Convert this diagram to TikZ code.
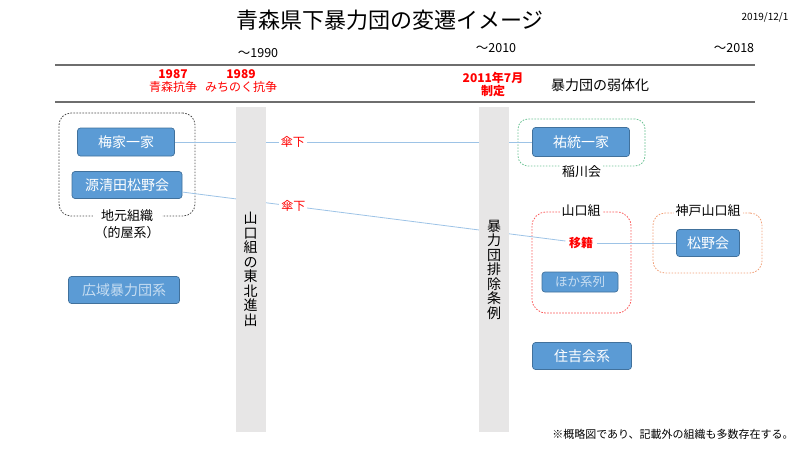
\documentclass[tikz,border=0pt]{standalone}
\usepackage{fontspec}
\setmainfont{Noto Sans CJK JP}
\usepackage{tikz}
\usetikzlibrary{positioning}
\definecolor{boxblue}{RGB}{91,155,213}
\definecolor{boxedge}{RGB}{65,113,156}
\definecolor{barfill}{RGB}{231,230,230}
\definecolor{linkblue}{RGB}{157,195,230}
\definecolor{fadetext}{RGB}{200,222,242}
\definecolor{rulegrey}{RGB}{110,110,110}
\definecolor{grpgreen}{RGB}{110,195,150}
\definecolor{grpred}{RGB}{250,90,90}
\definecolor{grporange}{RGB}{240,160,120}

\begin{document}
\begin{tikzpicture}[x=1pt,y=-1pt,
  org/.style={draw=boxedge,fill=boxblue,text=white,rounded corners=3pt,line width=0.7pt,font=\fontsize{14}{16}\selectfont,inner sep=0pt},
  grp/.style={draw=#1,rounded corners=12pt,dash pattern=on 1.6pt off 1.4pt,line width=0.8pt,inner sep=0pt},
  grplbl/.style={fill=white,inner sep=2pt,font=\fontsize{13}{15}\selectfont},
  link/.style={draw=linkblue,line width=0.8pt},
  redlbl/.style={text=red,font=\fontsize{12}{13}\selectfont,align=center},
  sanka/.style={redlbl,fill=white,inner sep=2pt},
  bar/.style={fill=barfill,minimum width=30pt,minimum height=325pt,inner sep=0pt,align=center,font=\fontsize{14}{14.5}\selectfont},
  era/.style={font=\fontsize{12.5}{14}\selectfont}]
  \useasboundingbox (0,0) rectangle (800,450);

  \node[font=\fontsize{22}{24}\selectfont] (title) at (390,20) {青森県下暴力団の変遷イメージ};
  \node[font=\fontsize{10}{12}\selectfont] (date) at (765,17) {2019/12/1};
  \node[era] (e1990) at (258,53) {〜1990};
  \node[era] (e2010) at (496,48) {〜2010};
  \node[era] (e2018) at (734,48) {〜2018};

  \draw[rulegrey,line width=1.2pt] (55,65) -- (755,65);
  \draw[rulegrey,line width=1.2pt] (55,102) -- (755,102);

  \node[redlbl] (ev1987) at (173,81) {\textbf{1987}\\青森抗争};
  \node[redlbl] (ev1989) at (241,81) {\textbf{1989}\\みちのく抗争};
  \node[redlbl,font=\bfseries\fontsize{12}{13}\selectfont] (ev2011) at (493,84) {2011年7月\\制定};
  \node[font=\fontsize{14}{16}\selectfont] (weak) at (600,85) {暴力団の弱体化};

  % groups
  \node[grp=black!70,minimum width=136pt,minimum height=103pt] (jimoto) at (127,164.5) {};
  \node[grp=grpgreen,minimum width=127pt,minimum height=47pt,rounded corners=10pt] (inagawa) at (581.5,142.5) {};
  \node[grp=grpred,minimum width=99pt,minimum height=101pt,rounded corners=14pt] (yamaguchi) at (581.5,262.5) {};
  \node[grp=grporange,minimum width=109pt,minimum height=60pt] (kobe) at (707.5,243) {};
  \node[grplbl,align=center,font=\fontsize{13}{17}\selectfont] (jimotolbl) at (127,224) {地元組織\\（的屋系）};
  \node[grplbl,below=-3pt of inagawa] (inagawalbl) {稲川会};
  \node[grplbl] (yamaguchilbl) at (581,211) {山口組};
  \node[grplbl] (kobelbl) at (708,211) {神戸山口組};

  % organisations
  \node[org,minimum width=97pt,minimum height=28pt] (umeya) at (126,142) {梅家一家};
  \node[org,minimum width=110pt,minimum height=27pt] (genseida) at (127,185) {源清田松野会};
  \node[org,minimum width=111pt,minimum height=27pt,text=fadetext] (kouiki) at (124,290) {広域暴力団系};
  \node[org,minimum width=97pt,minimum height=29pt] (yuto) at (581,142) {祐統一家};
  \node[org,minimum width=76pt,minimum height=20pt,text=fadetext,font=\fontsize{12.5}{14}\selectfont] (hoka) at (580,282) {ほか系列};
  \node[org,minimum width=63pt,minimum height=27pt] (matsuno) at (708,243) {松野会};
  \node[org,minimum width=99pt,minimum height=27pt] (sumiyoshi) at (582,356) {住吉会系};
  \node[redlbl,font=\bfseries\fontsize{12}{13}\selectfont] (iseki) at (581,243) {移籍};

  \draw[link] (umeya) -- node[sanka,pos=0.33] (sanka1) {傘下} (yuto);
  \draw[link] (genseida) -- node[sanka,pos=0.29] (sanka2) {傘下} (iseki);
  \draw[link] (iseki) -- (matsuno);

  % bars
  \node[bar] (tohoku) at (250.5,269.5) {山\\口\\組\\の\\東\\北\\進\\出};
  \node[bar] (jorei) at (494,269.5) {暴\\力\\団\\排\\除\\条\\例};

  \node[font=\fontsize{11}{13}\selectfont] (note) at (673,434) {※概略図であり、記載外の組織も多数存在する。};
\end{tikzpicture}
\end{document}
